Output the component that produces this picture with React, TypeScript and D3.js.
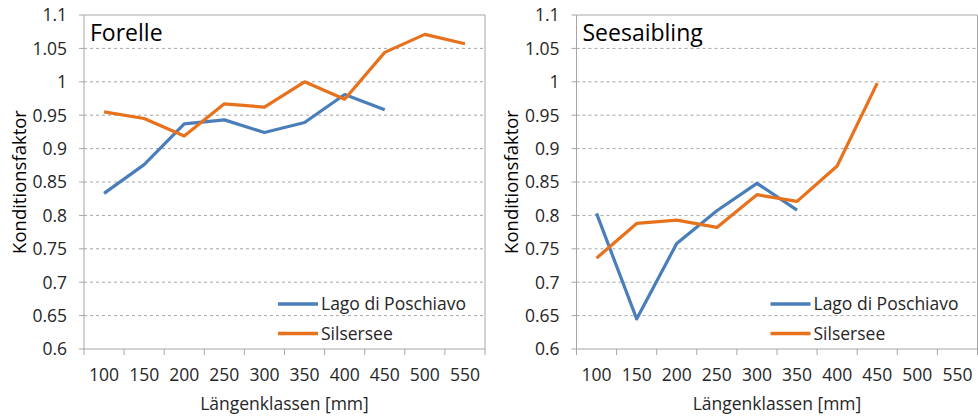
import * as d3 from 'd3';

const categories = ['100', '150', '200', '250', '300', '350', '400', '450', '500', '550'];
const yTicks = [0.6, 0.65, 0.7, 0.75, 0.8, 0.85, 0.9, 0.95, 1, 1.05, 1.1];

const forellePoschiavo = [0.833, 0.876, 0.937, 0.943, 0.924, 0.939, 0.981, 0.958];
const forelleSils = [0.955, 0.945, 0.919, 0.967, 0.962, 1.0, 0.974, 1.044, 1.071, 1.057];
const saiblingPoschiavo = [0.803, 0.645, 0.758, 0.807, 0.848, 0.808];
const saiblingSils = [0.736, 0.788, 0.793, 0.782, 0.831, 0.821, 0.874, 0.998];

const seriesNames = ['Lago di Poschiavo', 'Silsersee'];
const colors = ['#4a7ebb', '#e8711c'];

const FONT = "'Open Sans', sans-serif";
const TEXT = '#262626';
const AXIS = '#a6a6a6';

interface PanelProps {
    title: string;
    left: number;
    series: number[][];
}

function Panel({ title, left, series }: PanelProps) {
    const width = 401;
    const top = 15;
    const bottom = 349;
    const x = d3.scaleBand<string>().domain(categories).range([left, left + width]);
    const y = d3.scaleLinear().domain([0.6, 1.1]).range([bottom, top]);
    const line = d3
        .line<number>()
        .x((_, i) => (x(categories[i]) ?? 0) + x.bandwidth() / 2)
        .y((d) => y(d));
    const fmt = (v: number) => String(+v.toFixed(2));
    const right = left + width;

    return (
        <g>
            {/* grid */}
            {yTicks.slice(1, -1).map((t) => (
                <line
                    key={t}
                    x1={left}
                    x2={right}
                    y1={y(t)}
                    y2={y(t)}
                    stroke={AXIS}
                    strokeDasharray="3,3"
                />
            ))}
            {/* frame */}
            <line x1={left} x2={right} y1={top} y2={top} stroke={AXIS} />
            <line x1={right} x2={right} y1={top} y2={bottom} stroke={AXIS} />
            <line x1={left} x2={left} y1={top} y2={bottom} stroke={AXIS} />
            <line x1={left} x2={right} y1={bottom} y2={bottom} stroke={AXIS} />
            {yTicks.map((t) => (
                <g key={t}>
                    <line x1={left - 5} x2={left} y1={y(t)} y2={y(t)} stroke={AXIS} />
                    <text
                        x={left - 17}
                        y={y(t)}
                        dy="0.36em"
                        textAnchor="end"
                        fontSize={17.5}
                        fill={TEXT}
                    >
                        {fmt(t)}
                    </text>
                </g>
            ))}
            {categories.map((c) => (
                <g key={c}>
                    <line
                        x1={x(c)}
                        x2={x(c)}
                        y1={bottom}
                        y2={bottom + 6}
                        stroke={AXIS}
                    />
                    <text
                        x={(x(c) ?? 0) + x.bandwidth() / 2}
                        y={381}
                        textAnchor="middle"
                        fontSize={17.5}
                        fill={TEXT}
                    >
                        {c}
                    </text>
                </g>
            ))}
            <line x1={right} x2={right} y1={bottom} y2={bottom + 6} stroke={AXIS} />
            <text x={left + 6} y={41} fontSize={23} fill="#000">
                {title}
            </text>
            <text
                x={left + width / 2}
                y={410}
                textAnchor="middle"
                fontSize={17.5}
                fill={TEXT}
            >
                Längenklassen [mm]
            </text>
            <text
                transform={`translate(${left - 65},${(top + bottom) / 2}) rotate(-90)`}
                textAnchor="middle"
                dy="0.36em"
                fontSize={18.5}
                fill="#000"
            >
                Konditionsfaktor
            </text>
            {series.map((s, k) => (
                <path
                    key={k}
                    d={line(s) ?? ''}
                    fill="none"
                    stroke={colors[k]}
                    strokeWidth={3.2}
                    strokeLinejoin="round"
                />
            ))}
            {seriesNames.map((n, k) => (
                <g key={n} transform={`translate(${left + 194},${304 + k * 29.5})`}>
                    <line x1={0} x2={40} y1={0} y2={0} stroke={colors[k]} strokeWidth={3.5} />
                    <text x={43} y={0} dy="0.36em" fontSize={17.5} fill={TEXT}>
                        {n}
                    </text>
                </g>
            ))}
        </g>
    );
}

export default function App() {
    return (
        <svg
            width={978}
            height={416}
            style={{ position: 'absolute', left: 0, top: 0, background: '#fff' }}
            fontFamily={FONT}
        >
            <Panel title="Forelle" left={84} series={[forellePoschiavo, forelleSils]} />
            <Panel title="Seesaibling" left={576.5} series={[saiblingPoschiavo, saiblingSils]} />
        </svg>
    );
}
